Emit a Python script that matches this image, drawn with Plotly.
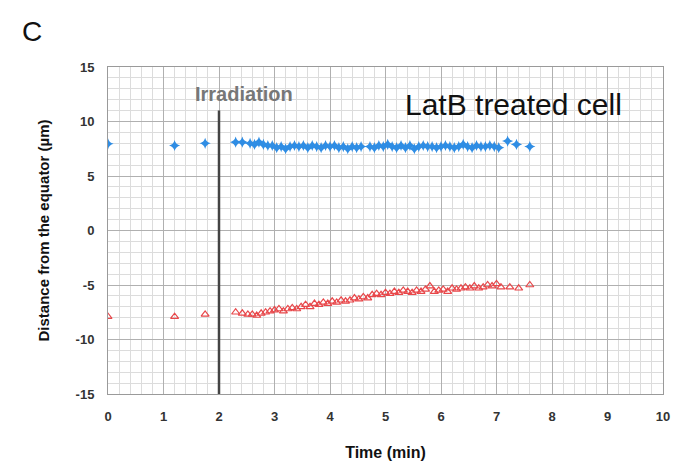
import plotly.graph_objects as go

# Blue series (upper pole)
blue_t = [0, 1.2, 1.75, 2.3, 2.42,
          2.56, 2.64, 2.72, 2.80, 2.88, 2.96, 3.04, 3.12, 3.20, 3.28, 3.36, 3.44, 3.52,
          3.60, 3.68, 3.76, 3.84, 3.92, 4.00, 4.08, 4.16, 4.24, 4.32, 4.40, 4.48, 4.56,
          4.72, 4.80, 4.88, 4.96, 5.04, 5.12, 5.20, 5.28, 5.36, 5.44, 5.52, 5.60, 5.68,
          5.76, 5.84, 5.92, 6.00, 6.08, 6.16, 6.24, 6.32, 6.40, 6.48, 6.56, 6.64, 6.72,
          6.80, 6.88, 6.96, 7.04, 7.2, 7.36, 7.6]
blue_y = [7.95, 7.8, 8.0, 8.1, 8.1,
          8.0, 7.9, 8.1, 7.9, 7.8, 7.8, 7.6, 7.7, 7.5, 7.7, 7.8, 7.7, 7.8,
          7.6, 7.8, 7.7, 7.6, 7.8, 7.7, 7.8, 7.6, 7.7, 7.5, 7.7, 7.6, 7.7,
          7.7, 7.6, 7.8, 7.7, 7.9, 7.7, 7.6, 7.8, 7.6, 7.8, 7.5, 7.7, 7.8,
          7.7, 7.7, 7.6, 7.7, 7.8, 7.7, 7.6, 7.7, 7.9, 7.7, 7.6, 7.8, 7.7,
          7.7, 7.8, 7.7, 7.6, 8.2, 7.9, 7.7]

# Red series (lower pole)
red_t = [0, 1.2, 1.75, 2.3, 2.42, 2.52,
         2.60, 2.68, 2.76, 2.84, 2.92, 3.00, 3.08, 3.16, 3.24, 3.32, 3.40, 3.48, 3.56,
         3.64, 3.72, 3.80, 3.88, 3.96, 4.04, 4.12, 4.20, 4.28, 4.36, 4.44, 4.52, 4.60,
         4.68, 4.76, 4.84, 4.92, 5.00, 5.08, 5.16, 5.24, 5.32, 5.40, 5.48, 5.56, 5.64,
         5.72, 5.80, 5.88, 5.96, 6.04, 6.12, 6.20, 6.28, 6.36, 6.44, 6.52, 6.60, 6.68,
         6.76, 6.84, 6.92, 7.00, 7.08, 7.24, 7.4, 7.6]
red_y = [-7.9, -7.9, -7.7, -7.5, -7.6, -7.7,
         -7.7, -7.8, -7.6, -7.5, -7.4, -7.3, -7.2, -7.4, -7.2, -7.1, -7.2, -7.0, -6.8,
         -7.0, -6.7, -6.8, -6.6, -6.7, -6.5, -6.6, -6.4, -6.5, -6.4, -6.2, -6.3, -6.1,
         -6.2, -5.9, -5.8, -5.9, -5.7, -5.8, -5.6, -5.7, -5.5, -5.6, -5.7, -5.5, -5.6,
         -5.4, -5.1, -5.6, -5.5, -5.4, -5.6, -5.3, -5.4, -5.3, -5.2, -5.3, -5.1, -5.3,
         -5.2, -5.0, -5.1, -4.9, -5.2, -5.2, -5.3, -5.0]

x_ticks = [0, 1, 2, 3, 4, 5, 6, 7, 8, 9, 10]
y_ticks = [-15, -10, -5, 0, 5, 10, 15]
irradiation_time = 2

fig = go.Figure()
fig.add_trace(go.Scatter(x=blue_t, y=blue_y, mode="markers",
                         marker=dict(symbol="star-diamond", size=8, color="#2f8de4",
                                     line=dict(width=0)),
                         showlegend=False))
fig.add_trace(go.Scatter(x=red_t, y=red_y, mode="markers",
                         marker=dict(symbol="triangle-up-open", size=7, color="#e8474a",
                                     line=dict(width=1.2)),
                         showlegend=False))

fig.add_shape(type="line", x0=irradiation_time, x1=irradiation_time, y0=-15, y1=11.0,
              xref="x", yref="y", line=dict(color="#444444", width=2.5))

tickfont = dict(family="Liberation Sans", size=13, color="#333333", weight="bold")
axis_common = dict(showline=True, linecolor="#9a9a9a", linewidth=1, mirror=True,
                   gridcolor="#b0b0b0", gridwidth=1, zeroline=False, ticks="",
                   tickfont=tickfont, ticklabelstandoff=10, automargin=False)

fig.update_xaxes(range=[0, 10], tickvals=x_ticks, ticktext=[str(v) for v in x_ticks],
                 minor=dict(dtick=0.2, gridcolor="#dcdcdc", gridwidth=1, showgrid=True),
                 title=dict(text="Time (min)", standoff=24,
                            font=dict(family="Liberation Sans", size=16, color="#111111",
                                      weight="bold")),
                 **axis_common)
fig.update_yaxes(range=[-15, 15], tickvals=y_ticks, ticktext=[str(v) for v in y_ticks],
                 minor=dict(dtick=1, gridcolor="#dcdcdc", gridwidth=1, showgrid=True),
                 title=dict(text="Distance from the equator (µm)", standoff=22,
                            font=dict(family="Liberation Sans", size=15, color="#111111",
                                      weight="bold")),
                 **axis_common)

fig.add_annotation(x=2.45, y=12.5, xref="x", yref="y", text="Irradiation",
                   showarrow=False, font=dict(family="Liberation Sans Narrow, Liberation Sans",
                                              size=20, color="#777777", weight="bold"))
fig.add_annotation(x=7.3, y=11.6, xref="x", yref="y", text="LatB treated cell",
                   showarrow=False, font=dict(family="Liberation Sans", size=30,
                                              color="#111111"))
fig.add_annotation(x=(20 - 108) / 555, y=1 + (67 - 31) / 327, xref="paper", yref="paper",
                   text="C", showarrow=False, xanchor="left", yanchor="middle",
                   font=dict(family="Liberation Sans", size=28, color="#111111"))

fig.update_layout(width=674, height=465, margin=dict(l=108, r=11, t=67, b=71),
                  plot_bgcolor="white", paper_bgcolor="white")

fig.write_html("out.html")
